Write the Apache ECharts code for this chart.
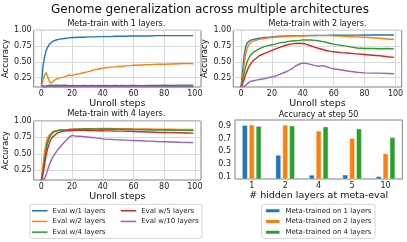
<!DOCTYPE html>
<html><head><meta charset="utf-8">
<script src="https://cdn.jsdelivr.net/npm/echarts@6/dist/echarts.min.js"></script>
<style>html,body{margin:0;padding:0;background:#fff}#c{width:407px;height:242px}</style>
</head><body><div id="c"></div>
<script>
// ---------- data ----------
const steps = [0,1,2,3,4,5,6,7,8,10,12,15,18,20,22,25,28,30,33,35,38,40,42,45,48,50,53,55,58,60,65,70,75,80,85,90,95,99];
const evalNames = ['Eval w/1 layers','Eval w/2 layers','Eval w/4 layers','Eval w/5 layers','Eval w/10 layers'];
const xTicks = [0,20,40,60,80,100];
const yTicks = [0.25,0.5,0.75,1.0];
const panelTitles = ['Meta-train with 1 layers.','Meta-train with 2 layers.','Meta-train with 4 layers.','Accuracy at step 50'];

// meta-train with 1 layer
const p1_l1 = [0.13,0.42,0.57,0.67,0.73,0.77,0.80,0.82,0.83,0.85,0.86,0.87,0.88,0.885,0.885,0.89,0.89,0.895,0.895,0.895,0.9,0.9,0.9,0.9,0.905,0.905,0.905,0.905,0.91,0.91,0.91,0.91,0.915,0.915,0.915,0.915,0.915,0.915];
const p1_l2 = [0.12,0.2,0.29,0.33,0.27,0.2,0.16,0.18,0.2,0.23,0.245,0.26,0.29,0.28,0.3,0.31,0.33,0.34,0.36,0.375,0.39,0.4,0.405,0.415,0.42,0.425,0.43,0.435,0.44,0.445,0.45,0.455,0.46,0.46,0.465,0.47,0.475,0.47];
const p1_l4 = [0.11,0.1,0.1,0.11,0.12,0.13,0.13,0.13,0.125,0.13,0.125,0.13,0.12,0.125,0.12,0.12,0.125,0.12,0.125,0.12,0.125,0.12,0.125,0.12,0.125,0.12,0.125,0.12,0.125,0.125,0.12,0.125,0.125,0.13,0.125,0.13,0.13,0.13];
const p1_l5 = [0.12,0.115,0.112,0.115,0.113,0.115,0.112,0.114,0.113,0.115,0.112,0.114,0.113,0.115,0.112,0.114,0.113,0.115,0.112,0.114,0.113,0.115,0.112,0.114,0.113,0.115,0.112,0.114,0.113,0.115,0.112,0.114,0.113,0.115,0.112,0.114,0.113,0.114];
const p1_l10 = [0.11,0.105,0.104,0.105,0.104,0.105,0.104,0.105,0.104,0.105,0.104,0.105,0.104,0.105,0.104,0.105,0.104,0.105,0.104,0.105,0.104,0.105,0.104,0.105,0.104,0.105,0.104,0.105,0.104,0.105,0.104,0.105,0.104,0.105,0.104,0.105,0.104,0.105];

// meta-train with 2 layers
const p2_l1 = [0.1,0.35,0.6,0.74,0.8,0.82,0.84,0.85,0.855,0.865,0.875,0.885,0.89,0.895,0.9,0.905,0.905,0.91,0.91,0.915,0.915,0.915,0.915,0.918,0.918,0.92,0.92,0.92,0.922,0.922,0.922,0.924,0.924,0.925,0.925,0.925,0.925,0.925];
const p2_l2 = [0.1,0.25,0.45,0.62,0.72,0.77,0.8,0.82,0.83,0.845,0.855,0.87,0.88,0.885,0.89,0.895,0.9,0.905,0.905,0.91,0.91,0.91,0.912,0.915,0.915,0.915,0.915,0.915,0.915,0.912,0.908,0.902,0.896,0.89,0.882,0.873,0.863,0.855];
const p2_l4 = [0.1,0.2,0.32,0.42,0.5,0.56,0.6,0.63,0.65,0.68,0.71,0.74,0.76,0.77,0.78,0.8,0.81,0.82,0.83,0.835,0.84,0.845,0.845,0.845,0.84,0.835,0.82,0.81,0.79,0.78,0.76,0.74,0.72,0.712,0.71,0.706,0.71,0.705];
const p2_l5 = [0.1,0.15,0.22,0.3,0.36,0.42,0.46,0.49,0.52,0.56,0.6,0.63,0.66,0.68,0.7,0.73,0.755,0.77,0.785,0.79,0.795,0.79,0.78,0.755,0.73,0.715,0.695,0.68,0.665,0.66,0.645,0.635,0.625,0.615,0.605,0.595,0.58,0.57];
const p2_l10 = [0.1,0.1,0.11,0.13,0.15,0.17,0.19,0.195,0.2,0.21,0.22,0.23,0.25,0.26,0.27,0.3,0.33,0.35,0.39,0.43,0.465,0.48,0.475,0.46,0.44,0.43,0.44,0.425,0.4,0.39,0.37,0.35,0.335,0.325,0.32,0.32,0.315,0.31];

// meta-train with 4 layers
const p3_l1 = [0.1,0.25,0.45,0.6,0.7,0.76,0.8,0.82,0.84,0.85,0.86,0.865,0.87,0.87,0.872,0.874,0.875,0.875,0.876,0.876,0.876,0.875,0.875,0.874,0.874,0.873,0.872,0.872,0.871,0.87,0.869,0.868,0.867,0.865,0.864,0.863,0.862,0.86];
const p3_l2 = [0.1,0.3,0.52,0.66,0.74,0.78,0.81,0.83,0.845,0.855,0.86,0.868,0.872,0.875,0.877,0.879,0.88,0.882,0.883,0.884,0.885,0.885,0.885,0.885,0.884,0.884,0.883,0.882,0.881,0.88,0.879,0.878,0.876,0.875,0.874,0.872,0.871,0.87];
const p3_l4 = [0.1,0.22,0.4,0.55,0.66,0.73,0.78,0.81,0.83,0.85,0.858,0.864,0.868,0.87,0.873,0.876,0.878,0.879,0.88,0.88,0.88,0.88,0.879,0.878,0.877,0.875,0.874,0.873,0.871,0.87,0.868,0.866,0.864,0.862,0.86,0.858,0.857,0.855];
const p3_l5 = [0.1,0.18,0.32,0.46,0.57,0.65,0.71,0.75,0.78,0.81,0.83,0.845,0.852,0.855,0.857,0.858,0.857,0.856,0.854,0.853,0.852,0.851,0.85,0.849,0.847,0.846,0.845,0.844,0.842,0.84,0.836,0.832,0.828,0.825,0.822,0.82,0.818,0.815];
const p3_l10 = [0.1,0.1,0.12,0.17,0.25,0.32,0.38,0.43,0.47,0.54,0.6,0.68,0.75,0.78,0.772,0.768,0.762,0.755,0.748,0.742,0.735,0.728,0.724,0.72,0.716,0.712,0.71,0.708,0.705,0.703,0.698,0.693,0.688,0.684,0.68,0.676,0.673,0.67];

// accuracy at step 50
const hiddenLayers = ['1','2','4','5','10'];
const barNames = ['Meta-trained on 1 layers','Meta-trained on 2 layers','Meta-trained on 4 layers'];
const bar_m1 = [0.908,0.44,0.127,0.13,0.105];
const bar_m2 = [0.915,0.912,0.82,0.705,0.465];
const bar_m4 = [0.893,0.9,0.884,0.853,0.717];
const barTicks = [0.1,0.3,0.5,0.7,0.9];

// ---------- chart ----------
const colors = ['#1f77b4','#ff7f0e','#2ca02c','#d62728','#9467bd'];
const FF = 'DejaVu Sans';
const panels = [[p1_l1,p1_l2,p1_l4,p1_l5,p1_l10],[p2_l1,p2_l2,p2_l4,p2_l5,p2_l10],[p3_l1,p3_l2,p3_l4,p3_l5,p3_l10]];
const grids = [
  {left:31.7, top:30.3, width:169.3, height:56.7},
  {left:233.3, top:30.3, width:168.4, height:56.7},
  {left:31.7, top:121, width:169.3, height:59},
  {left:235, top:120, width:167.3, height:59}
].map(g => Object.assign({show:true, borderColor:'#808080', borderWidth:1, backgroundColor:'#fff'}, g));

const xAxes = [], yAxes = [], series = [];
const yNameGap = [21.5, 19.5, 21.5];
for (let p = 0; p < 3; p++) {
  xAxes.push({type:'value', gridIndex:p, min:-5, max:104,
    axisLine:{show:false}, axisTick:{show:false, customValues:xTicks},
    axisLabel:{customValues:xTicks, fontSize:8, fontFamily:FF, color:'#222', margin:2.5},
    splitLine:{show:true, lineStyle:{color:'#d9d9d9', width:1}},
    name:'Unroll steps', nameLocation:'middle', nameGap:11.5,
    nameTextStyle:{fontSize:9.5, fontFamily:FF, color:'#111'}});
  yAxes.push({type:'value', gridIndex:p, min:0.1, max:1.0,
    axisLine:{show:false}, axisTick:{show:false, customValues:yTicks},
    axisLabel:{customValues:yTicks, fontSize:8, fontFamily:FF, color:'#222', margin:2, formatter:v=>v.toFixed(2)},
    splitLine:{show:true, lineStyle:{color:'#d9d9d9', width:1}},
    name:'Accuracy', nameLocation:'middle', nameRotate:90, nameGap:yNameGap[p],
    nameTextStyle:{fontSize:8.5, fontFamily:FF, color:'#111'}});
  panels[p].forEach((vals, k) => {
    series.push({type:'line', name:evalNames[k], xAxisIndex:p, yAxisIndex:p,
      data: steps.map((s,i)=>[s, vals[i]]), showSymbol:false, symbol:'none',
      lineStyle:{width:1.4, color:colors[k]}, itemStyle:{color:colors[k]}, clip:true});
  });
}
xAxes.push({type:'category', gridIndex:3, data:hiddenLayers,
  axisLine:{show:false}, axisTick:{show:false},
  axisLabel:{fontSize:8, fontFamily:FF, color:'#222', margin:3},
  name:'# hidden layers at meta-eval', nameLocation:'middle', nameGap:11.5,
  nameTextStyle:{fontSize:9.5, fontFamily:FF, color:'#111'}});
yAxes.push({type:'value', gridIndex:3, min:0.064, max:0.99,
  axisLine:{show:false}, axisTick:{show:false, customValues:barTicks},
  axisLabel:{customValues:barTicks, fontSize:8, fontFamily:FF, color:'#222', margin:4, formatter:v=>v.toFixed(1)},
  splitLine:{show:false}});
[bar_m1, bar_m2, bar_m4].forEach((vals, k) => {
  series.push({type:'bar', name:barNames[k], xAxisIndex:3, yAxisIndex:3, data:vals,
    barWidth:5.3, barGap:'30%', clip:true,
    itemStyle:{color:colors[k], borderColor:'#fff', borderWidth:0.4}});
});

const legText = {fontSize:7, fontFamily:FF, color:'#222', lineHeight:10.7};
const legBase = {orient:'vertical', padding:0, itemGap:0, itemWidth:15.5, icon:'rect', textStyle:legText, selectedMode:false};
const legends = [
  Object.assign({}, legBase, {data:evalNames.slice(0,3), left:32, top:205.4, itemHeight:1.5}),
  Object.assign({}, legBase, {data:evalNames.slice(3), left:120.7, top:205.4, itemHeight:1.5}),
  Object.assign({}, legBase, {data:barNames, left:264, top:205.4, itemHeight:5})
];

const txt = (x,y,text,size) => ({type:'text', x:x, y:y, style:{text:text, fontSize:size, fontFamily:FF, fill:'#111', align:'center', verticalAlign:'middle'}});
const graphic = [
  {type:'rect', shape:{x:30, y:204.3, width:172, height:34, r:2}, style:{fill:'#fff', stroke:'#d4d4d4', lineWidth:1}, z:0},
  {type:'rect', shape:{x:261.7, y:204.3, width:113.3, height:34, r:2}, style:{fill:'#fff', stroke:'#d4d4d4', lineWidth:1}, z:0},
  txt(210, 10, 'Genome generalization across multiple architectures', 12),
  txt(116.3, 24, panelTitles[0], 8),
  txt(317.5, 24, panelTitles[1], 8),
  txt(116.3, 114.3, panelTitles[2], 8),
  txt(318.6, 115.3, panelTitles[3], 8)
];

const chart = echarts.init(document.getElementById('c'), null, {renderer:'canvas'});
chart.setOption({
  animation:false, backgroundColor:'#fff', color:colors,
  grid:grids, xAxis:xAxes, yAxis:yAxes, series:series, legend:legends, graphic:graphic
});
</script></body></html>
